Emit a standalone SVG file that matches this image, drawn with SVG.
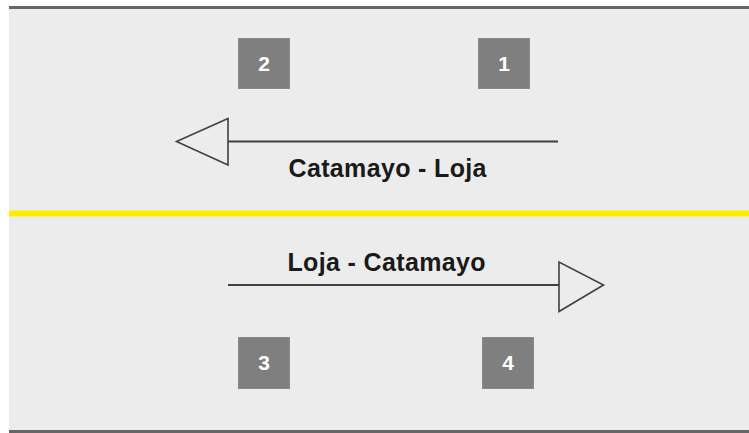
<svg xmlns="http://www.w3.org/2000/svg" width="749" height="433" viewBox="0 0 749 433">
<style>
.box{fill:#7f7f7f;stroke:#8a8a8a;stroke-width:1}
.num{font-family:"Liberation Sans",Arial,sans-serif;font-weight:bold;font-size:21px;fill:#ffffff;text-anchor:middle}
.lbl{font-family:"Liberation Sans",Arial,sans-serif;font-weight:bold;font-size:25px;fill:#1a1a1a;letter-spacing:0.35px}
.shaft{stroke:#404040;stroke-width:2;fill:none}
.head{stroke:#404040;stroke-width:1.6;fill:#ececec;stroke-linejoin:miter}
</style>
<rect x="0" y="0" width="749" height="433" fill="#ffffff"/>
<rect x="9" y="7" width="740" height="424" fill="#ececec"/>
<line x1="9" y1="7.5" x2="749" y2="7.5" stroke="#666666" stroke-width="3"/>
<line x1="9" y1="431.5" x2="749" y2="431.5" stroke="#666666" stroke-width="3"/>
<line x1="9" y1="213.5" x2="749" y2="213.5" stroke="#ffed00" stroke-width="6"/>
<g id="node-1"><rect class="box" x="478.5" y="38.5" width="51" height="50"/><text class="num" x="504" y="71">1</text></g>
<g id="node-2"><rect class="box" x="238.5" y="38.5" width="51" height="50"/><text class="num" x="264" y="71">2</text></g>
<g id="node-3"><rect class="box" x="238.5" y="337.5" width="51" height="51"/><text class="num" x="264" y="370">3</text></g>
<g id="node-4"><rect class="box" x="482.5" y="337.5" width="51" height="51"/><text class="num" x="508" y="370">4</text></g>
<g id="connectors">
<line class="shaft" x1="558" y1="141.5" x2="228" y2="141.5"/>
<polygon class="head" points="228,118.5 228,165 176.5,141.5"/>
<line class="shaft" x1="228" y1="285" x2="559" y2="285"/>
<polygon class="head" points="559,262 559,311.5 603.5,285"/>
</g>
<text class="lbl" x="288.5" y="176.5">Catamayo - Loja</text>
<text class="lbl" x="287.5" y="271">Loja - Catamayo</text>
</svg>
